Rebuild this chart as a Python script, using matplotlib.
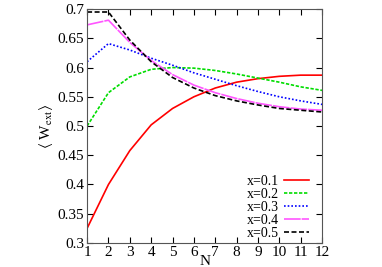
import matplotlib
matplotlib.use('Agg')
import matplotlib.pyplot as plt

# Data
N = [1, 2, 3, 4, 5, 6, 7, 8, 9, 10, 11, 12]
w_01 = [0.325, 0.400, 0.458, 0.502, 0.530, 0.550, 0.565, 0.575, 0.581, 0.585, 0.587, 0.587]
w_02 = [0.500, 0.557, 0.584, 0.597, 0.600, 0.599, 0.595, 0.589, 0.582, 0.575, 0.567, 0.561]
w_03 = [0.610, 0.641, 0.630, 0.616, 0.604, 0.591, 0.580, 0.569, 0.559, 0.550, 0.543, 0.537]
w_04 = [0.673, 0.681, 0.643, 0.612, 0.588, 0.570, 0.557, 0.547, 0.539, 0.533, 0.529, 0.527]
w_05 = [0.695, 0.695, 0.647, 0.610, 0.583, 0.565, 0.552, 0.543, 0.536, 0.530, 0.527, 0.524]
labels = ['x=0.1', 'x=0.2', 'x=0.3', 'x=0.4', 'x=0.5']

plt.rcParams['font.family'] = ['Liberation Serif', 'DejaVu Serif']
plt.rcParams['mathtext.fontset'] = 'stix'

fig = plt.figure(figsize=(3.82, 2.67), dpi=100)
ax = fig.add_axes([0.228, 0.09, 0.615, 0.876])

ax.plot(N, w_01, color='#ff0000', lw=1.2, ls='-', label=labels[0])
ax.plot(N, w_02, color='#00dd00', lw=1.2, ls=(0, (2, 1)), label=labels[1])
ax.plot(N, w_03, color='#0000ff', lw=1.2, ls=(0, (1, 1.2)), label=labels[2])
ax.plot(N, w_04, color='#ff55ff', lw=1.2, ls=(0, (10, 0.6)), label=labels[3])
ax.plot(N, w_05, color='#000000', lw=1.2, ls=(0, (3, 1.5)), label=labels[4])

ax.set_xlim(1, 12)
ax.set_ylim(0.3, 0.7)
ax.set_xticks(N)
ax.set_yticks([0.3, 0.35, 0.4, 0.45, 0.5, 0.55, 0.6, 0.65, 0.7])
ax.set_yticklabels(['0.3', '0.35', '0.4', '0.45', '0.5', '0.55', '0.6', '0.65', '0.7'])
ax.tick_params(direction='in', top=True, right=True, labelsize=11, length=4, pad=2)
for s in ax.spines.values():
    s.set_color('#555555')

ax.set_xlabel('N', fontsize=11, labelpad=-3)
ax.set_ylabel(r'$\langle$ W$_{\mathrm{ext}}$$\rangle$', fontsize=11, labelpad=2)

leg = ax.legend(loc='lower right', markerfirst=False, frameon=False, fontsize=10,
                handlelength=1.8, handletextpad=0.4, labelspacing=0.0,
                borderaxespad=0.0, bbox_to_anchor=(0.97, -0.01))

fig.savefig('out.png', dpi=100)
